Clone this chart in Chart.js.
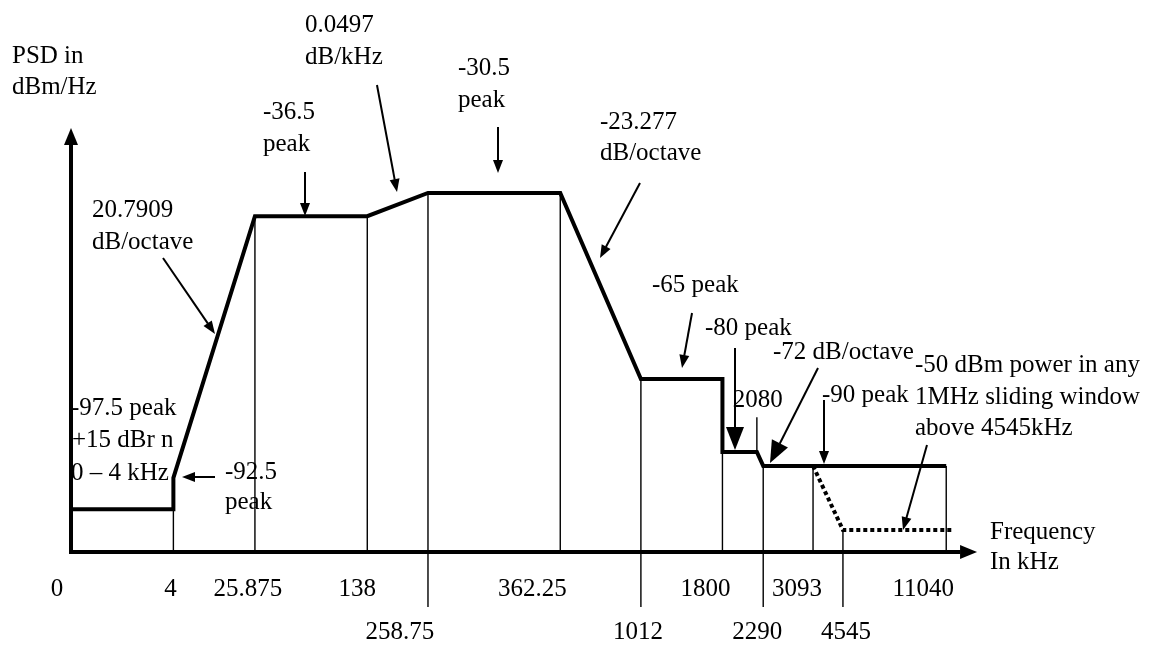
<!DOCTYPE html>
<html><head><meta charset="utf-8">
<script src="https://cdn.jsdelivr.net/npm/chart.js@4/dist/chart.umd.min.js"></script>
<style>html,body{margin:0;padding:0;background:#fff;overflow:hidden}#wrap{width:1149px;height:646px;position:relative}</style>
</head><body><div id="wrap"><canvas id="c" width="1149" height="646"></canvas></div>
<script>
// Breakpoint frequencies (kHz) as printed under the axis
const freqLabels = ['0','4','25.875','138','258.75','362.25','1012','1800','2080','2290','3093','4545','11040'];
// Position of each breakpoint along the schematic (non-linear) frequency axis, 0..100
const freqPos = [0, 11.3, 20.3, 32.7, 39.4, 54.0, 62.9, 71.9, 75.7, 76.4, 81.9, 85.2, 96.6];
// PSD levels (dBm/Hz) and their height on the schematic vertical axis, 0..100
const psdLevels = [-97.5, -92.5, -36.5, -30.5, -65, -80, -90];
const psdHeight = [10.1, 17.5, 79.2, 84.7, 40.8, 23.6, 20.3];
// Mask outline vertices
const maskFreq = ['0','4','4','25.875','138','258.75','362.25','1012','1800','1800','2080','2290','11040'];
const maskPSD  = [-97.5,-97.5,-92.5,-36.5,-36.5,-30.5,-30.5,-65,-65,-80,-80,-90,-90];
// Sliding-window limit above 4545 kHz (dotted), schematic units
const windowX = [81.9, 85.2, 97.4];
const windowY = [20.3, 5.2, 5.2];
// Guide lines at each breakpoint (schematic heights)
const guideTop    = [null, 10.1, 79.2, 79.2, 84.7, 84.7, 40.8, 23.6, 31.8, 20.3, 20.3, 5.2, 20.3];
const guideBottom = [null, 0, 0, 0, -13, 0, -13, 0, 23.6, -13, 0, -13, 0];

// ---- layout (not data) ----
const tickRow = [1,1,1,1,2,1,2,1,0,2,1,2,1];
const tickDx  = [-14,-3,-7,-10,-28,-28,-3,-17,1,-6,-16,3,-23];
const rowY = {0:400, 1:589, 2:632};
const FONT = '25px "Liberation Serif", "Times New Roman", serif';

const notes = [
 ['PSD in',12,56],['dBm/Hz',12,87],
 ['20.7909',92,210],['dB/octave',92,242],
 ['-36.5',263,112],['peak',263,144],
 ['0.0497',305,25],['dB/kHz',305,57],
 ['-30.5',458,68],['peak',458,100],
 ['-23.277',600,122],['dB/octave',600,153],
 ['-65 peak',652,285],
 ['-80 peak',705,328],
 ['-72 dB/octave',773,352],
 ['-90 peak',822,395],
 ['-50 dBm power in any',915,365],['1MHz sliding window',915,397],['above 4545kHz',915,428],
 ['Frequency',990,532],['In kHz',990,562],
 ['-97.5 peak',71,408],['+15 dBr n',72,440],['0 \u2013 4 kHz',71,473],
 ['-92.5',225,472],['peak',225,502]
];
const arrows = [
 [163,258,215,334,13,10],
 [305,172,305,216,13,10],
 [377,85,397,192,13,10],
 [498,127,498,173,13,10],
 [640,183,600,258,13,10],
 [692,313,682,368,13,10],
 [735,348,735,450,23,18],
 [818,368,770,463,22,18],
 [824,400,824,464,13,10],
 [927,445,903,530,13,10],
 [215,477,182,477,13,10]
];

function heightOf(psd){ return psdHeight[psdLevels.indexOf(psd)]; }
function posOf(f){ return freqPos[freqLabels.indexOf(f)]; }

const maskData = maskFreq.map((f,i)=>({x:posOf(f), y:heightOf(maskPSD[i])}));
const windowData = windowX.map((x,i)=>({x:x, y:windowY[i]}));
const guideData = [];
freqPos.forEach((x,i)=>{ if(guideTop[i]===null) return;
  guideData.push({x:x,y:guideTop[i]},{x:x,y:guideBottom[i]},{x:x,y:null}); });

function arrow(ctx,x1,y1,x2,y2,hl,hw,lw){
  const a=Math.atan2(y2-y1,x2-x1), c=Math.cos(a), s=Math.sin(a);
  const bx=x2-hl*c, by=y2-hl*s;
  ctx.save(); ctx.strokeStyle='#000'; ctx.fillStyle='#000'; ctx.lineWidth=lw;
  ctx.beginPath(); ctx.moveTo(x1,y1); ctx.lineTo(bx+0.5*c,by+0.5*s); ctx.stroke();
  ctx.beginPath(); ctx.moveTo(x2,y2); ctx.lineTo(bx-hw/2*s,by+hw/2*c); ctx.lineTo(bx+hw/2*s,by-hw/2*c); ctx.closePath(); ctx.fill();
  ctx.restore();
}

const deco = {
  id:'deco',
  afterDatasetsDraw(chart){
    const ctx=chart.ctx, xs=chart.scales.x, ys=chart.scales.y;
    const ox=xs.getPixelForValue(0), oy=ys.getPixelForValue(0);
    ctx.save(); ctx.fillStyle='#000'; ctx.font=FONT; ctx.textBaseline='middle';
    ctx.textAlign='left';
    notes.forEach(n=>ctx.fillText(n[0],n[1],n[2]));
    ctx.textAlign='center';
    freqLabels.forEach((t,i)=>ctx.fillText(t, xs.getPixelForValue(freqPos[i])+tickDx[i], rowY[tickRow[i]]));
    ctx.restore();
    // axes drawn over the text, as in the original
    arrow(ctx, ox-2, oy, xs.getPixelForValue(100), oy, 17, 14, 4);
    arrow(ctx, ox, oy+2, ox, ys.getPixelForValue(100), 17, 14, 4);
    arrows.forEach(a=>arrow(ctx,a[0],a[1],a[2],a[3],a[4],a[5],2));
  }
};

new Chart(document.getElementById('c'), {
  type:'line',
  data:{ datasets:[
    {label:'PSD mask', data:maskData, borderColor:'#000', borderWidth:4, pointRadius:0, tension:0, borderJoinStyle:'miter', borderCapStyle:'butt', order:0},
    {label:'Sliding window', data:windowData, borderColor:'#000', borderWidth:4, borderDash:[4,3], pointRadius:0, tension:0, order:1},
    {label:'Guides', data:guideData, borderColor:'#000', borderWidth:1.4, pointRadius:0, tension:0, spanGaps:false, order:2}
  ]},
  options:{
    responsive:false, animation:false, devicePixelRatio:1, events:[],
    layout:{padding:0},
    plugins:{legend:{display:false}, tooltip:{enabled:false}},
    scales:{
      x:{type:'linear', display:false, min:-7.837, max:118.98},
      y:{type:'linear', display:false, min:-22.17, max:130.19}
    }
  },
  plugins:[deco]
});
</script></body></html>
